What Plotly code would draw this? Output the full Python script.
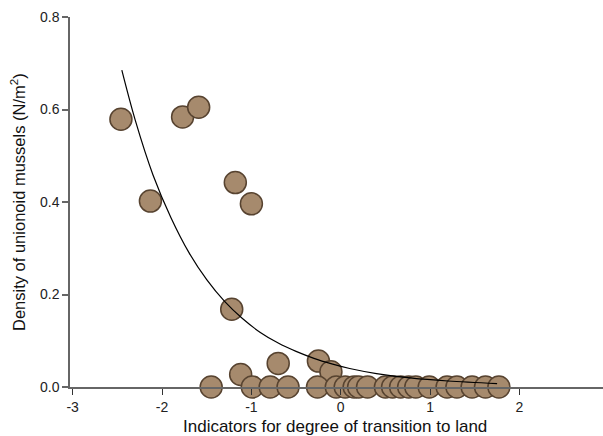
import plotly.graph_objects as go

# Observed data points (indicator score, mussel density N/m2)
point_x = [-2.46, -2.13, -1.77, -1.59, -1.18, -1.00, -1.22, -1.12, -0.70, -0.25, -0.11,
           -1.45, -0.99, -0.79, -0.59, -0.26, -0.05, 0.05, 0.15, 0.20, 0.30,
           0.50, 0.58, 0.67, 0.76, 0.84, 0.99, 1.19, 1.30, 1.47, 1.62, 1.77]
point_y = [0.579, 0.402, 0.584, 0.605, 0.442, 0.396, 0.168, 0.027, 0.051, 0.056, 0.033,
           0, 0, 0, 0, 0, 0, 0, 0, 0, 0,
           0, 0, 0, 0, 0, 0, 0, 0, 0, 0, 0]

# Fitted curve
curve_x = [-2.45, -2.3, -2.1, -1.9, -1.7, -1.5, -1.3, -1.1, -0.9, -0.7,
           -0.5, -0.3, -0.1, 0.1, 0.4, 0.8, 1.2, 1.75]
curve_y = [0.685, 0.577, 0.458, 0.366, 0.291, 0.232, 0.185, 0.148, 0.118, 0.095,
           0.077, 0.062, 0.050, 0.040, 0.029, 0.019, 0.013, 0.0075]

x_ticks = [-3, -2, -1, 0, 1, 2, 3]
y_ticks = [0.0, 0.2, 0.4, 0.6, 0.8]

x_title = "Indicators for degree of transition to land"
y_title = "Density of unionoid mussels (N/m<sup>2</sup>)"

fig = go.Figure()
fig.add_trace(go.Scatter(
    x=point_x, y=point_y, mode="markers",
    marker=dict(size=22, color="#a68a6d", line=dict(color="#574330", width=1.5)),
    cliponaxis=False, showlegend=False, hoverinfo="skip"))
fig.add_trace(go.Scatter(
    x=curve_x, y=curve_y, mode="lines",
    line=dict(color="black", width=1.2, shape="spline", smoothing=1.0),
    cliponaxis=False, showlegend=False, hoverinfo="skip"))

axis_font = dict(family="Liberation Sans, Arial, sans-serif", size=14, color="#222")
fig.update_layout(
    width=603, height=436,
    margin=dict(l=70, r=0, t=17, b=49),
    paper_bgcolor="white", plot_bgcolor="white",
    font=dict(family="Liberation Sans, Arial, sans-serif", color="#222"),
    xaxis=dict(range=[-3.03, 2.935], tickvals=x_ticks, ticktext=[str(v) for v in x_ticks],
               showgrid=False, zeroline=False, showline=True, linecolor="#666", linewidth=1.5,
               ticks="outside", ticklen=6, tickcolor="#333", tickwidth=1,
               tickfont=axis_font, automargin=False),
    yaxis=dict(range=[0, 0.8], tickvals=y_ticks, ticktext=["0.0", "0.2", "0.4", "0.6", "0.8"],
               showgrid=False, zeroline=False, showline=True, linecolor="#666", linewidth=1.5,
               ticks="outside", ticklen=6, tickcolor="#666", tickwidth=1.5,
               tickfont=axis_font, automargin=False),
    annotations=[
        dict(text=x_title, xref="paper", yref="paper", x=0.5, y=0, xshift=-2, yshift=-39,
             xanchor="center", yanchor="middle", showarrow=False,
             font=dict(size=17, color="#111")),
        dict(text=y_title, xref="paper", yref="paper", x=0, y=0.5, xshift=-52, yshift=0,
             xanchor="center", yanchor="middle", textangle=-90, showarrow=False,
             font=dict(size=16.5, color="#111")),
    ],
)
fig.write_html("out.html", config={"displayModeBar": False},
               post_script="document.body.style.margin='0px';document.body.style.overflow='hidden';")
